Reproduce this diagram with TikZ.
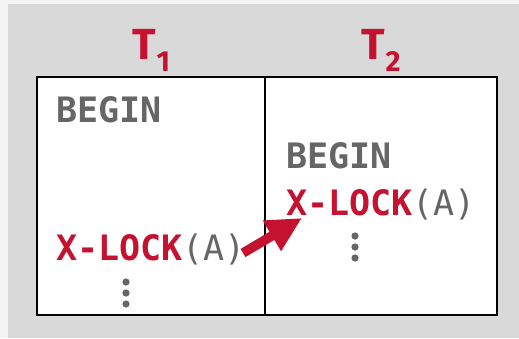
\documentclass[tikz,border=0pt]{standalone}
\usepackage{fontspec}
\usetikzlibrary{arrows.meta,calc}
\newfontfamily\monof{DejaVu Sans Mono}
\newfontfamily\headf{Fira Sans}
\definecolor{cmured}{HTML}{C41230}
\definecolor{txtgray}{HTML}{666666}
\definecolor{bggray}{HTML}{D9D9D9}
\definecolor{edgegray}{HTML}{F4F4F4}
\tikzset{
  code/.style={anchor=base west, inner sep=0pt, font=\monof\fontsize{35bp}{42bp}\selectfont},
  head/.style={anchor=base west, inner sep=0pt, text=cmured, font=\headf\bfseries\fontsize{43.5bp}{50bp}\selectfont},
  dot/.style={fill=txtgray, draw=none},
  lockarrow/.style={draw=cmured, line width=9.5bp, -{Triangle[length=35bp,width=33bp]}}
}
\begin{document}
\begin{tikzpicture}[x=1bp,y=-1bp]
\fill[edgegray] (0,0) rectangle (519,338);
\fill[bggray] (8,4) rectangle (519,338);
\useasboundingbox (0,0) rectangle (519,338);
% boxes
\node[draw=black, line width=2bp, fill=white, minimum width=460bp, minimum height=238bp, inner sep=0pt, anchor=north west] (box) at (36,76) {};
\draw[line width=1.5bp] (265,76) coordinate (dtop) -- (265,314) coordinate (dbot);
% headers
\node[head] (t1) at (132,59) {T\lower12bp\hbox{\kern1bp\fontsize{29bp}{34bp}\selectfont 1}};
\node[head] (t2) at (361,59) {T\lower12bp\hbox{\kern1bp\fontsize{29bp}{34bp}\selectfont 2}};
% T1 column
\node[code, text=txtgray] (b1) at (56,122) {\bfseries BEGIN};
\node[code] (x1) at (56,260) {\textcolor{cmured}{\bfseries X-LOCK}\textcolor{txtgray}{(A)}};
% T2 column
\node[code, text=txtgray] (b2) at (286,168) {\bfseries BEGIN};
\node[code] (x2) at (286,215) {\textcolor{cmured}{\bfseries X-LOCK}\textcolor{txtgray}{(A)}};
% dots
\foreach \y in {282,293,304} \fill[dot] (126,\y) circle (3.6bp);
\foreach \y in {236,247,258} \fill[dot] (355,\y) circle (3.6bp);
% arrow
\draw[lockarrow] ($(x1.base east)+(-3,-7)$) -- ($(x2.base west)+(16,3)$);
\end{tikzpicture}
\end{document}
